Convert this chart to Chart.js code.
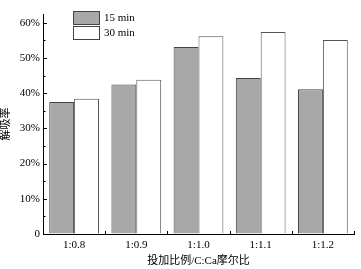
<!DOCTYPE html>
<html>
<head>
<meta charset="utf-8">
<script src="https://cdn.jsdelivr.net/npm/chart.js@4/dist/chart.umd.min.js"></script>
<style>
  html, body { margin:0; padding:0; background:#fff; }
  #wrap { width:361px; height:269px; position:relative; }
</style>
</head>
<body>
<div id="wrap"><canvas id="c"></canvas></div>
<script>
const ratios = ['1:0.8','1:0.9','1:1.0','1:1.1','1:1.2'];
const min15 = [37.5, 42.5, 53.1, 44.3, 41.1];
const min30 = [38.4, 43.8, 56.2, 57.4, 55.1];
const yTicks = [0, 10, 20, 30, 40, 50, 60];

const FONT = '"Liberation Serif", "Noto Sans CJK SC", serif';

// inward tick marks + legend box in the upper left
const decor = {
  id: 'decor',
  afterDraw(chart) {
    const ctx = chart.ctx, y = chart.scales.y, x = chart.scales.x;
    const left = chart.chartArea.left, bottom = chart.chartArea.bottom;
    ctx.save();
    ctx.strokeStyle = '#000';
    ctx.lineWidth = 1;
    ctx.beginPath();
    for (let v = 0; v <= 60; v += 5) {
      const py = Math.round(y.getPixelForValue(v)) + 0.5;
      const len = v % 10 === 0 ? 4 : 2.5;
      ctx.moveTo(left, py); ctx.lineTo(left + len, py);
    }
    const half = (x.getPixelForValue(1) - x.getPixelForValue(0)) / 2;
    for (let i = 0; i < ratios.length; i++) {
      const px = Math.round(x.getPixelForValue(i) + half) + 0.5;
      ctx.moveTo(px, bottom); ctx.lineTo(px, bottom - 3);
    }
    ctx.stroke();

    // legend
    const items = chart.data.datasets;
    ctx.font = '11px ' + FONT;
    ctx.textBaseline = 'middle';
    items.forEach((ds, i) => {
      const bx = 73.5, by = 11.5 + i * 15;
      ctx.fillStyle = ds.backgroundColor;
      ctx.fillRect(bx, by, 26, 13);
      ctx.strokeStyle = '#444';
      ctx.strokeRect(bx, by, 26, 13);
      ctx.fillStyle = '#000';
      ctx.fillText(ds.label, 104, by + 6.5);
    });
    ctx.restore();
  }
};

new Chart(document.getElementById('c'), {
  type: 'bar',
  data: {
    labels: ratios,
    datasets: [
      { label:'15 min', data:min15, backgroundColor:'#a8a8a8', borderColor:'#444', borderWidth:1, borderSkipped:'bottom' },
      { label:'30 min', data:min30, backgroundColor:'#ffffff', borderColor:'#555', borderWidth:1, borderSkipped:'bottom' }
    ]
  },
  options: {
    responsive:true, maintainAspectRatio:false, animation:false,
    layout:{ padding:{ left:0, right:7, top:14, bottom:0 } },
    plugins:{ legend:{display:false}, tooltip:{enabled:false} },
    datasets:{ bar:{ categoryPercentage:0.8, barPercentage:1.0 } },
    scales:{
      x:{
        grid:{ display:true, drawOnChartArea:false, drawTicks:false },
        border:{ display:true, color:'#000', width:1 },
        ticks:{ color:'#000', padding:5, font:{ family:FONT, size:11 } },
        title:{ display:true, text:'投加比例/C:Ca摩尔比', color:'#000', padding:{top:1,bottom:1}, font:{ family:FONT, size:11 } },
        afterFit: s => { s.height = 35; }
      },
      y:{
        min:0, max:62.5,
        afterBuildTicks: s => { s.ticks = yTicks.map(v => ({ value:v })); },
        grid:{ display:true, drawOnChartArea:false, drawTicks:false },
        border:{ display:true, color:'#000', width:1 },
        ticks:{ color:'#000', padding:3, font:{ family:FONT, size:11 }, callback: v => v === 0 ? '0' : v + '%' },
        title:{ display:true, text:'解吸率', color:'#000', padding:{top:0,bottom:0}, font:{ family:FONT, size:11 } },
        afterFit: s => { s.width = 43; }
      }
    }
  },
  plugins:[decor]
});
</script>
</body>
</html>
